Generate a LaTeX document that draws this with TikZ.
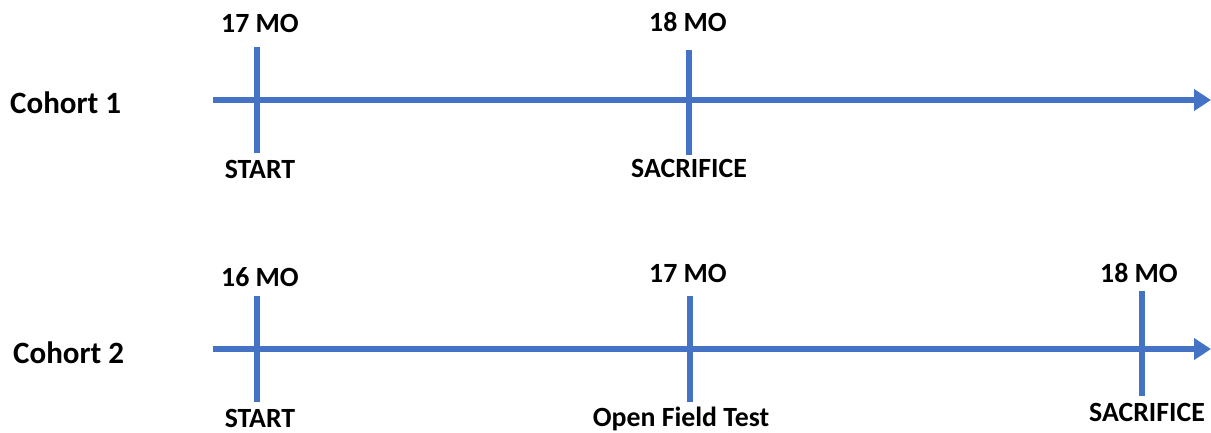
\documentclass[tikz,border=0pt]{standalone}
\usepackage{fontspec}
\setmainfont{Carlito}
\usetikzlibrary{arrows.meta}
\definecolor{lineblue}{HTML}{4472C4}
\begin{document}
\begin{tikzpicture}[x=1pt,y=-1pt,
  axisline/.style={draw=lineblue,line width=6pt,-{Triangle[length=17pt,width=21pt]}},
  tickline/.style={draw=lineblue,line width=6.5pt},
  lbl/.style={anchor=base,inner sep=0pt,font=\fontsize{27.8}{32}\selectfont\bfseries},
  cohortlbl/.style={anchor=base west,inner sep=0pt,font=\fontsize{31}{35}\selectfont\bfseries}]
\useasboundingbox (0,0) rectangle (1211,432);

% Cohort 1
\node[cohortlbl] (c1) at (10,113) {Cohort 1};
\coordinate (a1s) at (213,100);
\coordinate (a1e) at (1211,100);
\draw[axisline] (a1s) -- (a1e);
\coordinate (t11a) at (257,47);  \coordinate (t11b) at (257,153);
\coordinate (t12a) at (689,50);  \coordinate (t12b) at (689,155);
\draw[tickline] (t11a) -- (t11b);
\draw[tickline] (t12a) -- (t12b);
\node[lbl] (m11) at (260,32) {17 MO};
\node[lbl] (m12) at (688,31) {18 MO};
\node[lbl] (e11) at (260,178) {START};
\node[lbl] (e12) at (689,177) {SACRIFICE};

% Cohort 2
\node[cohortlbl] (c2) at (13,363) {Cohort 2};
\coordinate (a2s) at (213,349);
\coordinate (a2e) at (1211,349);
\draw[axisline] (a2s) -- (a2e);
\coordinate (t21a) at (257,296);  \coordinate (t21b) at (257,402);
\coordinate (t22a) at (690,296);  \coordinate (t22b) at (690,402);
\coordinate (t23a) at (1142,291); \coordinate (t23b) at (1142,396);
\draw[tickline] (t21a) -- (t21b);
\draw[tickline] (t22a) -- (t22b);
\draw[tickline] (t23a) -- (t23b);
\node[lbl] (m21) at (260,286) {16 MO};
\node[lbl] (m22) at (688,282) {17 MO};
\node[lbl] (m23) at (1139,282) {18 MO};
\node[lbl] (e21) at (260,427) {START};
\node[lbl] (e22) at (681,426) {Open Field Test};
\node[lbl] (e23) at (1147,421) {SACRIFICE};
\end{tikzpicture}
\end{document}
